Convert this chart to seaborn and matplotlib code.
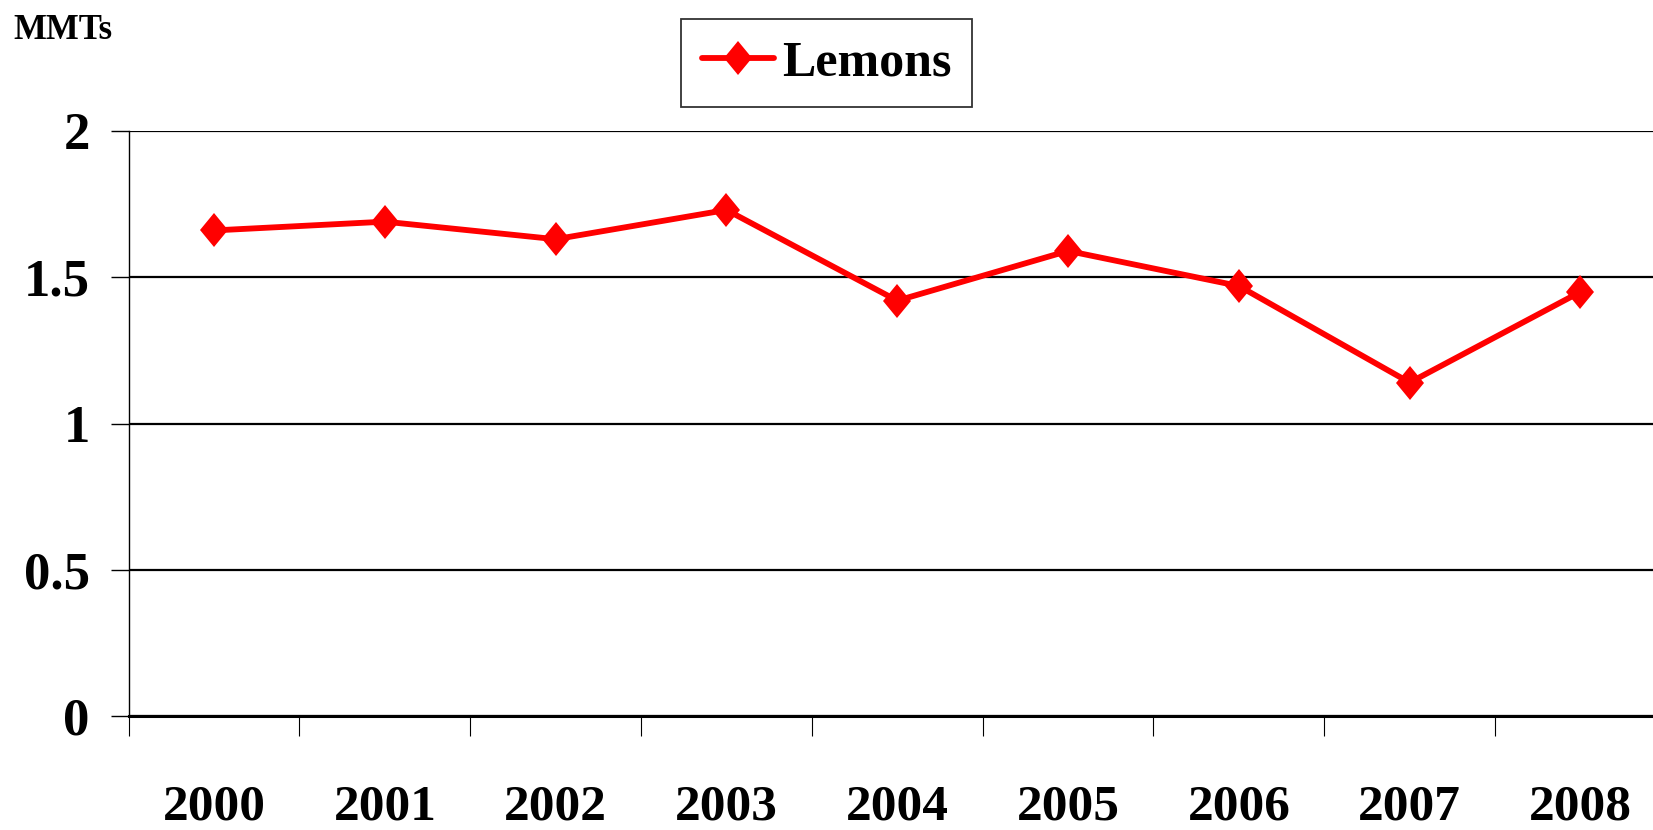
import matplotlib
matplotlib.use('Agg')
import matplotlib.pyplot as plt
from matplotlib.markers import MarkerStyle
from matplotlib.transforms import Affine2D
import numpy as np
import pandas as pd
import seaborn as sns

years = ['2000', '2001', '2002', '2003', '2004', '2005', '2006', '2007', '2008']
lemons = [1.66, 1.69, 1.63, 1.73, 1.42, 1.59, 1.47, 1.14, 1.45]
y_ticks = [0, 0.5, 1, 1.5, 2]
y_labels = ['0', '0.5', '1', '1.5', '2']

sns.set_style('white')
plt.rcParams['font.family'] = ['Liberation Serif', 'DejaVu Serif']
plt.rcParams['font.weight'] = 'bold'
plt.rcParams['text.color'] = 'black'
plt.rcParams['xtick.color'] = 'black'
plt.rcParams['ytick.color'] = 'black'

df = pd.DataFrame({'Pos': np.arange(len(years)), 'MMTs': lemons})

fig = plt.figure(figsize = (16.53, 8.30), dpi = 100)
ax = fig.add_axes([0.0778, 0.1373, 0.930, 0.7049])

diamond = MarkerStyle('D', transform = Affine2D().scale(0.84, 1.0))
sns.lineplot(x = 'Pos', y = 'MMTs', data = df, ax = ax, color = '#ff0000',
             linewidth = 4.2, marker = diamond, markersize = 17,
             markeredgewidth = 0, label = 'Lemons')

ax.set_xlim(-0.5, len(years) - 0.5)
ax.set_ylim(0, 2)

# y axis
ax.set_yticks(y_ticks)
ax.set_yticklabels(y_labels, fontsize = 38, fontweight = 'bold')
ax.tick_params(axis = 'y', direction = 'out', length = 13, width = 1.0,
               color = 'black', pad = 15, left = True)
ax.yaxis.grid(True, color = 'black', linewidth = 1.6)
ax.xaxis.grid(False)

# x axis: ticks between categories, labels at centers
ax.set_xticks(np.arange(len(years) + 1) - 0.5)
ax.set_xticklabels([])
ax.set_xticks(np.arange(len(years)), minor = True)
ax.set_xticklabels(years, minor = True, fontsize = 37, fontweight = 'bold')
ax.tick_params(axis = 'x', which = 'major', direction = 'out', length = 14.5,
               width = 0.8, color = 'black', bottom = True)
ax.tick_params(axis = 'x', which = 'minor', length = 0, pad = 49)

for side in ['top', 'right']:
    ax.spines[side].set_visible(False)
ax.spines['left'].set_color('black')
ax.spines['left'].set_linewidth(1.0)
ax.spines['bottom'].set_color('black')
ax.spines['bottom'].set_linewidth(2.2)

ax.set_xlabel('')
ax.set_ylabel('')

fig.text(0.008, 0.963, 'MMTs', fontsize = 25, fontweight = 'bold',
         ha = 'left', va = 'center')

leg = ax.legend(loc = 'center', bbox_to_anchor = (0.5, 0.924),
                bbox_transform = fig.transFigure, fontsize = 36,
                frameon = True, fancybox = False, shadow = False,
                handlelength = 1.45, handletextpad = 0.15, borderpad = 0.42,
                borderaxespad = 0)
leg.get_frame().set_edgecolor('black')
leg.get_frame().set_linewidth(1.3)
for t in leg.get_texts():
    t.set_fontweight('bold')

fig.savefig('out.png', dpi = 100)
